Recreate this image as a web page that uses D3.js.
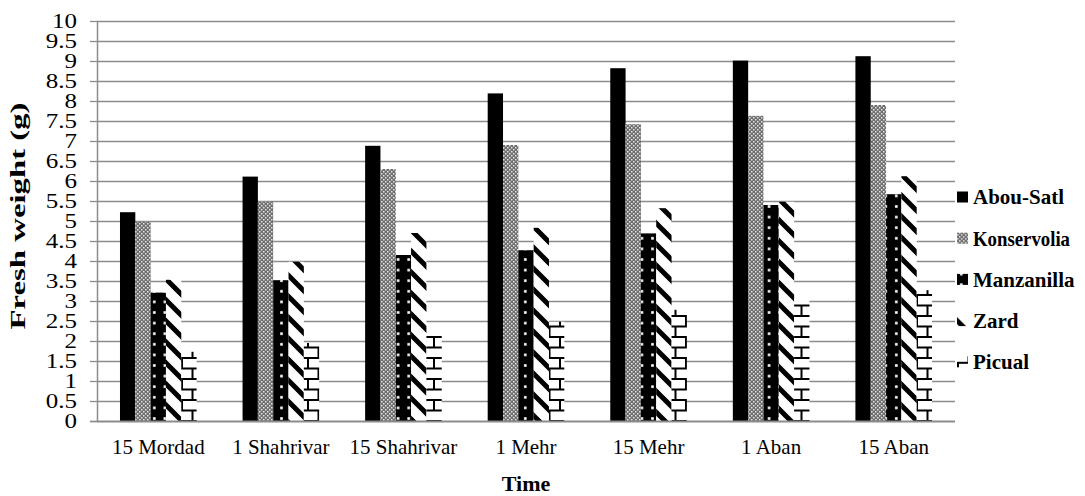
<!DOCTYPE html>
<html>
<head>
<meta charset="utf-8">
<script src="https://cdn.jsdelivr.net/npm/d3@7"></script>
<style>
  body { margin: 0; background: #fff; }
</style>
</head>
<body>
<div id="chart-container"></div>
<script>
const categories = ["15 Mordad", "1 Shahrivar", "15 Shahrivar", "1 Mehr", "15 Mehr", "1 Aban", "15 Aban"];
const seriesNames = ["Abou-Satl", "Konservolia", "Manzanilla", "Zard", "Picual"];
const abouSatl = [5.22, 6.11, 6.88, 8.19, 8.82, 9.01, 9.12];
const konservolia = [4.98, 5.48, 6.3, 6.9, 7.42, 7.63, 7.9];
const manzanilla = [3.21, 3.52, 4.15, 4.27, 4.69, 5.4, 5.67];
const zard = [3.53, 3.98, 4.7, 4.83, 5.32, 5.48, 6.12];
const picual = [1.73, 1.95, 2.2, 2.48, 2.78, 3.07, 3.27];
const yTicks = d3.range(0, 10.01, 0.5);

const seriesValues = [abouSatl, konservolia, manzanilla, zard, picual];
const fills = ["#000", "url(#p-kons)", "url(#p-manz)", "url(#p-zard)", "url(#p-pic)"];
const FONT = '"Liberation Serif", "Times New Roman", serif';

const margin = { top: 21, right: 130, bottom: 75, left: 97 };
const width = 1085 - margin.left - margin.right;
const height = 496 - margin.top - margin.bottom;

// widen text the way the original picture is stretched
function stretch(sel, factor) {
    sel.each(function () {
        const len = this.getComputedTextLength();
        d3.select(this).attr("textLength", len * factor).attr("lengthAdjust", "spacingAndGlyphs");
    });
}

const root = d3.select("#chart-container").append("svg")
    .attr("width", 1085)
    .attr("height", 496);

// fill patterns
const defs = root.append("defs");

const pk = defs.append("pattern").attr("id", "p-kons")
    .attr("patternUnits", "userSpaceOnUse").attr("width", 4).attr("height", 4);
pk.append("rect").attr("width", 4).attr("height", 4).attr("fill", "#6e6e6e");
pk.append("rect").attr("x", 0).attr("y", 0).attr("width", 1.5).attr("height", 1.5).attr("fill", "#e8e8e8");
pk.append("rect").attr("x", 2).attr("y", 2).attr("width", 1.5).attr("height", 1.5).attr("fill", "#e8e8e8");

const pm = defs.append("pattern").attr("id", "p-manz")
    .attr("patternUnits", "userSpaceOnUse").attr("width", 10.6).attr("height", 10.6);
pm.append("rect").attr("width", 10.6).attr("height", 10.6).attr("fill", "#000");
pm.append("rect").attr("x", 3).attr("y", 4).attr("width", 2.6).attr("height", 2.6).attr("fill", "#fff");

const pz = defs.append("pattern").attr("id", "p-zard")
    .attr("patternUnits", "userSpaceOnUse").attr("width", 21).attr("height", 21);
pz.append("rect").attr("width", 21).attr("height", 21).attr("fill", "#fff");
pz.append("path").attr("d", "M-5,-5L26,26M-5,16L5,26M16,-5L26,5")
    .attr("stroke", "#000").attr("stroke-width", 5);

const pp = defs.append("pattern").attr("id", "p-pic")
    .attr("patternUnits", "userSpaceOnUse").attr("width", 21).attr("height", 21);
pp.append("rect").attr("width", 21).attr("height", 21).attr("fill", "#fff");
pp.append("path").attr("d", "M0,1H21M0,11.5H21M1,0V11.5M11.5,11.5V21")
    .attr("stroke", "#000").attr("stroke-width", 2).attr("fill", "none");

const svg = root.append("g")
    .attr("transform", `translate(${margin.left},${margin.top})`);

const x0 = d3.scaleBand().domain(categories).range([0, width]).padding(0);
const x1 = d3.scaleBand().domain(seriesNames).range([0, x0.bandwidth()])
    .paddingInner(0).paddingOuter(1.5);
const y = d3.scaleLinear().domain([0, 10]).range([height, 0]);

// gridlines
svg.append("g")
    .selectAll("line")
    .data(yTicks.filter(d => d > 0))
    .enter().append("line")
    .attr("x1", 0).attr("x2", width)
    .attr("y1", d => Math.round(y(d)) + 0.5).attr("y2", d => Math.round(y(d)) + 0.5)
    .attr("stroke", "#8c8c8c").attr("stroke-width", 1.3);

// bars
const data = [];
categories.forEach((c, i) => {
    seriesNames.forEach((s, j) => {
        data.push({ cat: c, series: s, value: seriesValues[j][i], fill: fills[j] });
    });
});

svg.selectAll(".bar")
    .data(data)
    .enter().append("rect")
    .attr("class", "bar")
    .attr("x", d => x0(d.cat) + x1(d.series))
    .attr("y", d => y(d.value))
    .attr("width", x1.bandwidth())
    .attr("height", d => height - y(d.value))
    .attr("fill", d => d.fill);

// y axis
const yAxis = svg.append("g")
    .call(d3.axisLeft(y).tickValues(yTicks).tickSize(7).tickPadding(13)
        .tickFormat(d => d3.format("")(d)));
yAxis.attr("font-family", FONT);
yAxis.select(".domain").attr("stroke", "#8c8c8c").attr("stroke-width", 1.5)
    .attr("d", `M-7,${height + 0.5}H0.5V0.5`);
yAxis.selectAll(".tick line").attr("stroke", "#8c8c8c").attr("stroke-width", 1.3);
yAxis.selectAll(".tick text")
    .style("font-family", FONT)
    .style("font-size", "20px").attr("fill", "#000")
    .call(stretch, 1.25);

// x axis
const xAxis = svg.append("g")
    .attr("transform", `translate(0,${height})`)
    .call(d3.axisBottom(x0).tickSize(0).tickPadding(18));
xAxis.attr("font-family", FONT);
xAxis.select(".domain").attr("stroke", "#8c8c8c").attr("stroke-width", 2)
    .attr("d", `M0,0.5H${width}`);
xAxis.selectAll(".tick text")
    .style("font-family", FONT)
    .style("font-size", "21px").attr("fill", "#000");

// axis titles
svg.append("text")
    .attr("x", width / 2)
    .attr("y", height + 70)
    .style("text-anchor", "middle")
    .style("font-family", FONT)
    .style("font-size", "22px")
    .style("font-weight", "bold")
    .text("Time");

svg.append("text")
    .attr("transform", `translate(${18 - margin.left},${216 - margin.top}) rotate(-90)`)
    .attr("dy", "0.35em")
    .style("text-anchor", "middle")
    .style("font-family", FONT)
    .style("font-size", "20px")
    .style("font-weight", "bold")
    .text("Fresh weight (g)")
    .attr("textLength", 227)
    .attr("lengthAdjust", "spacingAndGlyphs");

// legend
const legend = root.append("g").attr("transform", "translate(957,197)");
const items = legend.selectAll("g")
    .data(seriesNames)
    .enter().append("g")
    .attr("transform", (d, i) => `translate(0,${i * 41.2})`);
items.append("rect")
    .attr("x", 0).attr("y", -5.5)
    .attr("width", 11).attr("height", 11)
    .attr("fill", (d, i) => fills[i]);
items.append("text")
    .attr("x", 16).attr("dy", "0.35em")
    .style("font-family", FONT)
    .style("font-size", "21px")
    .style("font-weight", "bold")
    .text(d => d)
    .each(function () {
        // the widest name is squeezed a little in the original
        const len = this.getComputedTextLength();
        if (len > 104) d3.select(this).attr("textLength", 97).attr("lengthAdjust", "spacingAndGlyphs");
    });
</script>
</body>
</html>
